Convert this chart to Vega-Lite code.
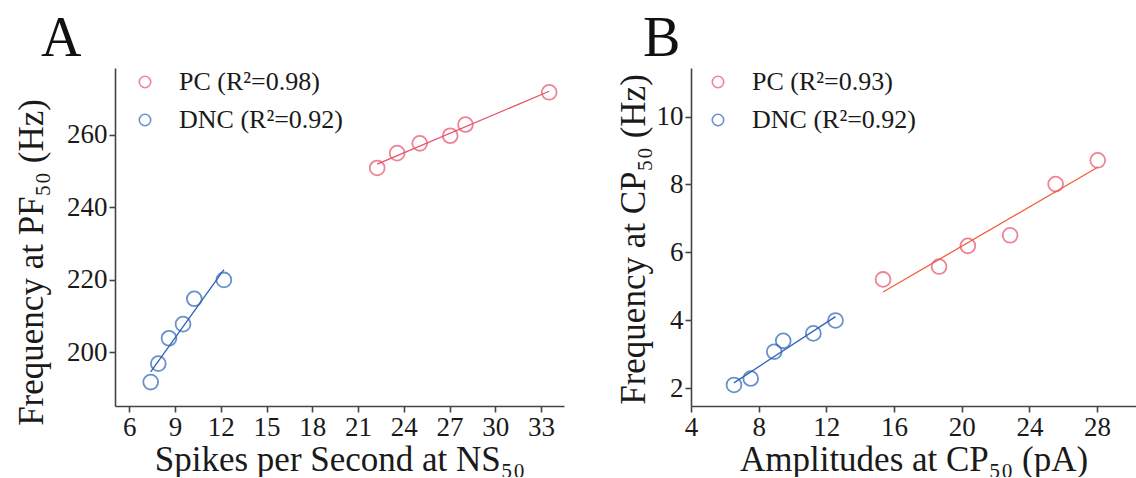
{
  "$schema": "https://vega.github.io/schema/vega-lite/v6.json",
  "background": "white",
  "padding": {"left": 13, "top": 11, "right": 0, "bottom": 0},
  "autosize": {"type": "pad"},
  "spacing": 127,
  "bounds": "flush",
  "config": {
    "view": {"stroke": null},
    "font": "Liberation Serif",
    "axis": {
      "grid": false,
      "labelFont": "Liberation Serif",
      "labelFontSize": 27,
      "labelColor": "#1a1a1a",
      "titleFont": "Liberation Serif",
      "titleFontSize": 35,
      "titleFontWeight": "normal",
      "titleColor": "#1a1a1a",
      "domainColor": "#444444",
      "domainWidth": 1.6,
      "tickColor": "#444444",
      "tickWidth": 1.6,
      "tickSize": 6,
      "labelPadding": 2,
      "labelFlush": false
    },
    "legend": {
      "labelFont": "Liberation Serif",
      "labelFontSize": 26,
      "labelColor": "#1a1a1a",
      "labelLimit": 0,
      "symbolSize": 130,
      "symbolStrokeWidth": 1.6,
      "symbolType": "circle",
      "labelOffset": 21,
      "rowPadding": 12,
      "padding": 0,
      "title": null
    }
  },
  "hconcat": [
    {
      "width": 449,
      "height": 338,
      "title": {"text": "A", "anchor": "start", "frame": "group", "fontSize": 56, "font": "Liberation Serif", "fontWeight": "normal", "color": "#111111", "dx": -74, "offset": 0},
      "data": {
        "values": [
          {"series": "PC (R²=0.98)", "x": 22.25, "y": 250.8},
          {"series": "PC (R²=0.98)", "x": 23.56, "y": 254.9},
          {"series": "PC (R²=0.98)", "x": 25.04, "y": 257.6},
          {"series": "PC (R²=0.98)", "x": 27.04, "y": 259.7},
          {"series": "PC (R²=0.98)", "x": 28.04, "y": 262.8},
          {"series": "PC (R²=0.98)", "x": 33.53, "y": 271.7},
          {"series": "DNC (R²=0.92)", "x": 7.40, "y": 191.7},
          {"series": "DNC (R²=0.92)", "x": 7.90, "y": 196.8},
          {"series": "DNC (R²=0.92)", "x": 8.60, "y": 203.8},
          {"series": "DNC (R²=0.92)", "x": 9.52, "y": 207.7},
          {"series": "DNC (R²=0.92)", "x": 10.26, "y": 214.7},
          {"series": "DNC (R²=0.92)", "x": 12.20, "y": 219.9}
        ]
      },
      "encoding": {
        "x": {"field": "x", "type": "quantitative", "scale": {"domain": [5.06, 34.5], "nice": false, "zero": false},
              "axis": {"title": "Spikes per Second at NS₅₀", "values": [6, 9, 12, 15, 18, 21, 24, 27, 30, 33], "titlePadding": 2}},
        "y": {"field": "y", "type": "quantitative", "scale": {"domain": [185.1, 278.4], "nice": false, "zero": false},
              "axis": {"title": "Frequency at PF₅₀ (Hz)", "values": [200, 220, 240, 260], "titleX": -84, "titleY": 194, "titleBaseline": "middle"}}
      },
      "layer": [
        {
          "transform": [{"regression": "y", "on": "x", "groupby": ["series"]}],
          "mark": {"type": "line", "strokeWidth": 1.3},
          "encoding": {
            "color": {"field": "series", "type": "nominal", "scale": {"domain": ["PC (R²=0.98)", "DNC (R²=0.92)"], "range": ["#e8506a", "#2d63b5"]}, "legend": null}
          }
        },
        {
          "mark": {"type": "point", "shape": "circle", "filled": false, "size": 220, "strokeWidth": 1.8},
          "encoding": {
            "color": {"field": "series", "type": "nominal", "scale": {"domain": ["PC (R²=0.98)", "DNC (R²=0.92)"], "range": ["#e8506a", "#2d63b5"]},
                      "legend": {"orient": "none", "legendX": 17, "legendY": 1}}
          }
        }
      ],
      "resolve": {"scale": {"color": "independent"}}
    },
    {
      "width": 445,
      "height": 338,
      "title": {"text": "B", "anchor": "start", "frame": "group", "fontSize": 56, "font": "Liberation Serif", "fontWeight": "normal", "color": "#111111", "dx": -48, "offset": 0},
      "data": {
        "values": [
          {"series": "PC (R²=0.93)", "x": 15.35, "y": 5.20},
          {"series": "PC (R²=0.93)", "x": 18.66, "y": 5.58},
          {"series": "PC (R²=0.93)", "x": 20.36, "y": 6.19},
          {"series": "PC (R²=0.93)", "x": 22.86, "y": 6.50},
          {"series": "PC (R²=0.93)", "x": 25.55, "y": 8.01},
          {"series": "PC (R²=0.93)", "x": 28.04, "y": 8.71},
          {"series": "DNC (R²=0.92)", "x": 6.54, "y": 2.09},
          {"series": "DNC (R²=0.92)", "x": 7.53, "y": 2.28},
          {"series": "DNC (R²=0.92)", "x": 8.92, "y": 3.07},
          {"series": "DNC (R²=0.92)", "x": 9.45, "y": 3.39},
          {"series": "DNC (R²=0.92)", "x": 11.23, "y": 3.61},
          {"series": "DNC (R²=0.92)", "x": 12.54, "y": 3.99}
        ]
      },
      "encoding": {
        "x": {"field": "x", "type": "quantitative", "scale": {"domain": [4, 30.3], "nice": false, "zero": false},
              "axis": {"title": "Amplitudes at CP₅₀ (pA)", "values": [4, 8, 12, 16, 20, 24, 28], "titlePadding": 2}},
        "y": {"field": "y", "type": "quantitative", "scale": {"domain": [1.47, 11.43], "nice": false, "zero": false},
              "axis": {"title": "Frequency at CP₅₀ (Hz)", "values": [2, 4, 6, 8, 10], "titleX": -58, "titleY": 171, "titleBaseline": "middle"}}
      },
      "layer": [
        {
          "transform": [{"regression": "y", "on": "x", "groupby": ["series"]}],
          "mark": {"type": "line", "strokeWidth": 1.3},
          "encoding": {
            "color": {"field": "series", "type": "nominal", "scale": {"domain": ["PC (R²=0.93)", "DNC (R²=0.92)"], "range": ["#f0603c", "#2d63b5"]}, "legend": null}
          }
        },
        {
          "mark": {"type": "point", "shape": "circle", "filled": false, "size": 220, "strokeWidth": 1.8},
          "encoding": {
            "color": {"field": "series", "type": "nominal", "scale": {"domain": ["PC (R²=0.93)", "DNC (R²=0.92)"], "range": ["#e8506a", "#2d63b5"]},
                      "legend": {"orient": "none", "legendX": 14, "legendY": 1}}
          }
        }
      ],
      "resolve": {"scale": {"color": "independent"}}
    }
  ]
}
